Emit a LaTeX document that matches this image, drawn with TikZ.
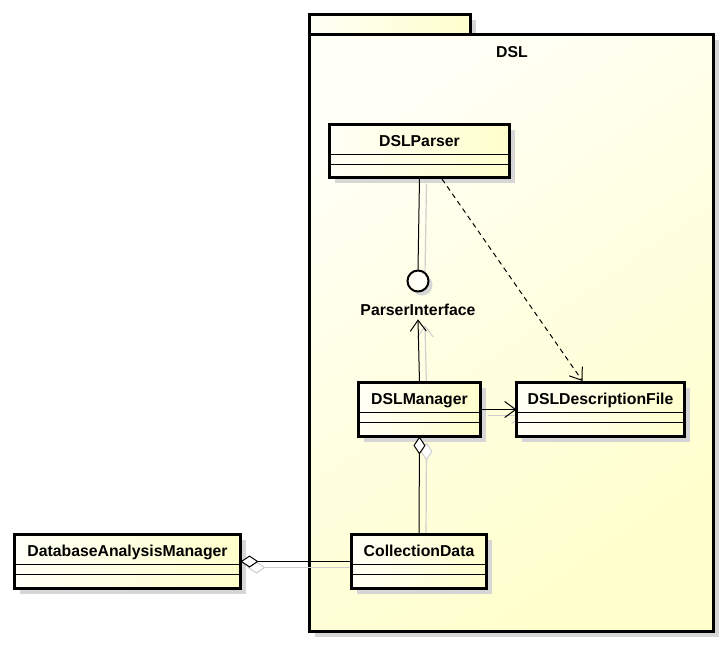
\documentclass[tikz,border=0pt]{standalone}
\usepackage{fontspec}
\setmainfont{Liberation Sans}
\usetikzlibrary{arrows.meta,shadows,calc}

\definecolor{umlyellow}{RGB}{255,255,204}
\definecolor{umlpale}{RGB}{255,255,246}
\definecolor{shadowgray}{RGB}{214,214,214}
\definecolor{linkshadow}{RGB}{206,206,206}

\pgfdeclarelayer{package}
\pgfdeclarelayer{linkshades}
\pgfsetlayers{package,linkshades,main}

\tikzset{
  x=1pt, y=-1pt,
  label/.style={font=\fontsize{15.8}{18}\selectfont\bfseries, inner sep=0pt},
  classbox/.style={draw, line width=3pt, left color=umlpale, right color=umlyellow,
    anchor=north west, inner sep=0pt, outer sep=0pt,
    general shadow={fill=shadowgray, shadow xshift=5pt, shadow yshift=-5pt}},
  pkgbody/.style={draw, line width=3pt, shading=axis, top color=umlpale,
    bottom color=umlyellow, shading angle=35, anchor=north west, inner sep=0pt,
    outer sep=0pt, general shadow={fill=shadowgray, shadow xshift=5pt, shadow yshift=-5pt}},
  pkgtab/.style={draw, line width=3pt, left color=umlpale, right color=umlyellow,
    anchor=north west, inner sep=0pt, outer sep=0pt,
    general shadow={fill=shadowgray, shadow xshift=5pt, shadow yshift=-5pt}},
  compline/.style={line width=1pt},
  link/.style={line width=1pt},
  linkshade/.style={line width=1.2pt, draw=linkshadow},
  openarrow/.style={-{Straight Barb[length=11pt, width=16pt, line width=1pt]}},
  aggr/.style={{Diamond[open, length=18pt, width=12pt, line width=1pt, fill=white]}-},
  iface/.style={circle, draw, line width=2pt, fill=umlpale, minimum size=21pt, inner sep=0pt,
    general shadow={fill=shadowgray, shadow xshift=4pt, shadow yshift=-4pt}},
}

% \umlclass{name}{x}{y}{width}{height}{title}
\newcommand\umlclass[6]{%
  \node[classbox, minimum width=#4pt, minimum height=#5pt] (#1) at (#2,#3) {};
  \node[label, anchor=base] (#1-title) at ($(#1.north)+(0,21.5)$) {#6};
  \draw[compline] ($(#1.north west)+(0,29.5)$) -- ($(#1.north east)+(0,29.5)$);
  \draw[compline] ($(#1.north west)+(0,39.5)$) -- ($(#1.north east)+(0,39.5)$);
}

\begin{document}
\begin{tikzpicture}
\useasboundingbox (0,0) rectangle (728,645);

% package DSL
\begin{pgfonlayer}{package}
  \node[pkgtab, minimum width=161pt, minimum height=20pt] (dsltab) at (309.5,14.5) {};
  \node[pkgbody, minimum width=404pt, minimum height=597pt] (dsl) at (309.5,34.5) {};
  \node[label, anchor=base] (dsl-title) at (512,57) {DSL};
\end{pgfonlayer}

% classes
\umlclass{parser}{329.5}{124.5}{180}{53}{DSLParser}
\umlclass{manager}{358.5}{382.5}{122}{54}{DSLManager}
\umlclass{descfile}{516.5}{382.5}{168}{54}{DSLDescriptionFile}
\umlclass{coll}{351.5}{534.5}{135}{54}{CollectionData}
\umlclass{dbm}{14.5}{534.5}{226}{54}{DatabaseAnalysisManager}

% provided interface
\node[iface] (pi) at (418,281) {};
\node[label, anchor=base] (pi-label) at (418,315) {ParserInterface};

% helper points on the box borders
\coordinate (dep-start) at ($(parser.south)+(22.5,1.5)$);
\coordinate (dep-end) at ($(descfile.north)+(-18,-1.5)$);
\coordinate (req-end) at ($(pi-label.south)+(0,4)$);

% connector shadows, kept under the boxes
\begin{pgfonlayer}{linkshades}
\begin{scope}[transform canvas={xshift=7pt, yshift=-6pt}]
  \draw[linkshade] (parser.south) -- (pi.north);
  \draw[linkshade, openarrow] (manager.north) -- (req-end);
  \draw[linkshade, openarrow] (manager.east) -- (descfile.west);
  \draw[linkshade, aggr] (manager.south) -- (coll.north);
  \draw[linkshade, aggr] (dbm.east) -- (coll.west);
\end{scope}
\end{pgfonlayer}

% connectors
\draw[link] (parser.south) -- (pi.north);
\draw[link, dashed, dash pattern=on 5pt off 4pt, openarrow] (dep-start) -- (dep-end);
\draw[link, openarrow] (manager.north) -- (req-end);
\draw[link, openarrow] (manager.east) -- (descfile.west);
\draw[link, aggr] (manager.south) -- (coll.north);
\draw[link, aggr] (dbm.east) -- (coll.west);
\end{tikzpicture}
\end{document}
